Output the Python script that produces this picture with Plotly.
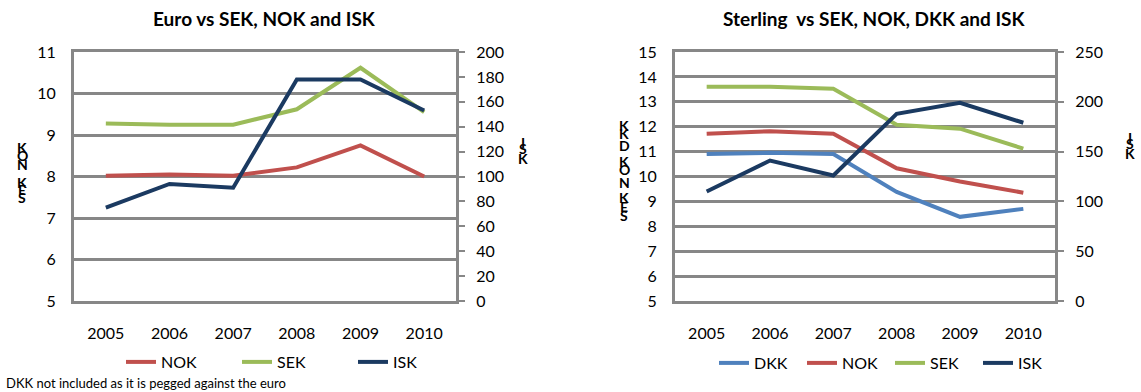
import plotly.graph_objects as go

# Years shared by both panels
years = ["2005", "2006", "2007", "2008", "2009", "2010"]

# Euro cross rates (krona/krone per euro; ISK on the secondary axis)
eur_nok = [8.02, 8.05, 8.02, 8.22, 8.75, 8.00]
eur_sek = [9.28, 9.25, 9.25, 9.62, 10.62, 9.55]
eur_isk = [75, 94, 91, 178, 178, 153]

# Sterling cross rates (ISK on the secondary axis)
gbp_dkk = [10.90, 10.95, 10.90, 9.38, 8.38, 8.70]
gbp_nok = [11.72, 11.82, 11.72, 10.33, 9.80, 9.35]
gbp_sek = [13.60, 13.60, 13.52, 12.08, 11.92, 11.12]
gbp_isk = [110, 141, 126, 188, 199, 179]

W, H = 1141, 392
FONT = "Lato"
GRID = "#878787"
C_DKK = "#4F81BD"
C_NOK = "#C0504D"
C_SEK = "#9BBB59"
C_ISK = "#1B3A61"


def px_x(p):
    return p / W


def px_y(p):
    return 1 - p / H


fig = go.Figure()

line_w = 4

# Left panel
fig.add_trace(go.Scatter(x=years, y=eur_nok, name="NOK", mode="lines",
                         line=dict(color=C_NOK, width=line_w), xaxis="x", yaxis="y", legend="legend"))
fig.add_trace(go.Scatter(x=years, y=eur_sek, name="SEK", mode="lines",
                         line=dict(color=C_SEK, width=line_w), xaxis="x", yaxis="y", legend="legend"))
fig.add_trace(go.Scatter(x=years, y=eur_isk, name="ISK", mode="lines",
                         line=dict(color=C_ISK, width=line_w), xaxis="x", yaxis="y2", legend="legend"))

# Right panel
fig.add_trace(go.Scatter(x=years, y=gbp_dkk, name="DKK", mode="lines",
                         line=dict(color=C_DKK, width=line_w), xaxis="x2", yaxis="y3", legend="legend2"))
fig.add_trace(go.Scatter(x=years, y=gbp_nok, name="NOK", mode="lines",
                         line=dict(color=C_NOK, width=line_w), xaxis="x2", yaxis="y3", legend="legend2"))
fig.add_trace(go.Scatter(x=years, y=gbp_sek, name="SEK", mode="lines",
                         line=dict(color=C_SEK, width=line_w), xaxis="x2", yaxis="y3", legend="legend2"))
fig.add_trace(go.Scatter(x=years, y=gbp_isk, name="ISK", mode="lines",
                         line=dict(color=C_ISK, width=line_w), xaxis="x2", yaxis="y4", legend="legend2"))

tick_font = dict(family=FONT, size=16, color="#000")
y_dom = [px_y(301), px_y(52)]

common_x = dict(type="category", range=[-0.5, 5.5], showgrid=False, showline=True,
                mirror=True, linecolor=GRID, linewidth=3, ticks="", tickfont=tick_font,
                ticklabelstandoff=16, automargin=False)
common_yl = dict(showgrid=True, gridcolor=GRID, gridwidth=2.5, showline=True,
                 linecolor=GRID, linewidth=3, ticks="", tickfont=tick_font,
                 ticklabelstandoff=12, zeroline=False, automargin=False)
common_yr = dict(side="right", showgrid=False, showline=True, linecolor=GRID,
                 linewidth=3, ticks="outside", ticklen=6, tickwidth=2, tickcolor=GRID,
                 tickfont=tick_font, ticklabelstandoff=8, zeroline=False, automargin=False)

fig.update_layout(
    width=W, height=H,
    margin=dict(l=0, r=0, t=0, b=0, autoexpand=False),
    paper_bgcolor="white", plot_bgcolor="white",
    font=dict(family=FONT, color="#000"),
    showlegend=True,
    xaxis=dict(domain=[px_x(74), px_x(456)], anchor="y", **common_x),
    yaxis=dict(domain=y_dom, range=[5, 11], dtick=1, anchor="x", **common_yl),
    yaxis2=dict(overlaying="y", anchor="x", range=[0, 200], dtick=20, **common_yr),
    xaxis2=dict(domain=[px_x(675), px_x(1055)], anchor="y3", **common_x),
    yaxis3=dict(domain=y_dom, range=[5, 15], dtick=1, anchor="x2", **common_yl),
    yaxis4=dict(overlaying="y3", anchor="x2", range=[0, 250], dtick=50, **common_yr),
    legend=dict(orientation="h", x=px_x(121), y=px_y(362), yanchor="middle", xanchor="left",
                entrywidth=71, entrywidthmode="pixels", itemwidth=30,
                font=dict(family=FONT, size=16), bgcolor="rgba(0,0,0,0)", tracegroupgap=0),
    legend2=dict(orientation="h", x=px_x(714), y=px_y(363), yanchor="middle", xanchor="left",
                 entrywidth=43, entrywidthmode="pixels", itemwidth=30,
                 font=dict(family=FONT, size=16), bgcolor="rgba(0,0,0,0)", tracegroupgap=0),
)

annotations = [
    dict(text="<b>Euro vs SEK, NOK and ISK</b>", x=px_x(264), y=px_y(19),
         font=dict(family=FONT, size=19)),
    dict(text="<b>Sterling  vs SEK, NOK, DKK and ISK</b>", x=px_x(874), y=px_y(19),
         font=dict(family=FONT, size=19)),
    dict(text="DKK not included as it is pegged against the euro", x=px_x(4), y=px_y(383),
         xanchor="left", font=dict(family=FONT, size=13)),
]

# Stacked letters forming the vertical axis titles
stacks = [
    (22, [("K", 147), ("O", 155), ("N", 164), ("K", 182), ("E", 190), ("S", 198)]),
    (523, [("I", 142), ("S", 148), ("K", 158)]),
    (624, [("K", 126), ("K", 133), ("D", 145), ("K", 161), ("O", 169), ("N", 182),
           ("K", 197), ("E", 206), ("S", 215)]),
    (1130, [("I", 137), ("S", 143), ("K", 153)]),
]
for xp, letters in stacks:
    for ch, yp in letters:
        annotations.append(dict(text=f"<b>{ch}</b>", x=px_x(xp), y=px_y(yp),
                                font=dict(family=FONT, size=14)))

for a in annotations:
    a.update(xref="paper", yref="paper", showarrow=False)
    a.setdefault("xanchor", "center")
    a.setdefault("yanchor", "middle")

fig.update_layout(annotations=annotations)

fig.write_html("out.html", config=dict(displayModeBar=False))
